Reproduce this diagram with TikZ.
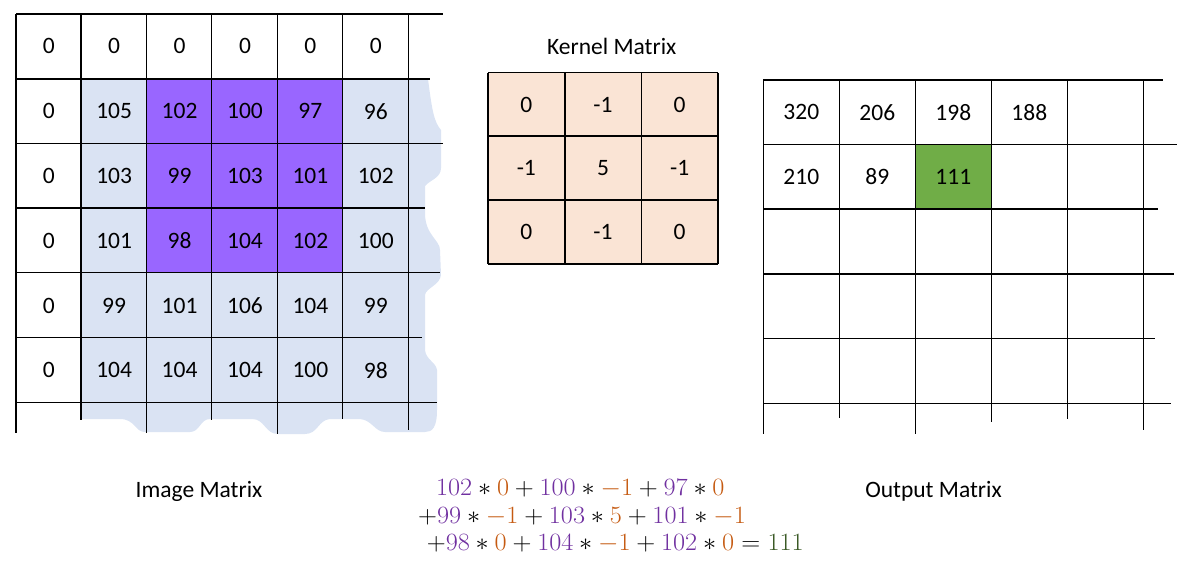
\documentclass[tikz,border=0pt]{standalone}
\usepackage[no-math]{fontspec}
\usepackage{graphicx}
\setmainfont{Carlito}
\definecolor{lblue}{RGB}{218,227,243}
\definecolor{kpurple}{RGB}{153,102,255}
\definecolor{kpeach}{RGB}{250,228,213}
\definecolor{kgreen}{RGB}{112,173,71}
\definecolor{fpurple}{RGB}{112,48,160}
\definecolor{forange}{RGB}{197,90,17}
\definecolor{fgreen}{RGB}{56,87,35}
\begin{document}
\begin{tikzpicture}[x=1pt,y=-1pt,
  gridline/.style={line width=1.4pt,black},
  cell/.style={font=\fontsize{23.5}{28}\selectfont, inner sep=0pt},
  lbl/.style={font=\fontsize{23.5}{28}\selectfont, inner sep=0pt},
  formula/.style={font=\fontsize{24}{28}\selectfont, inner sep=0pt, anchor=base west}]
\useasboundingbox (0,0) rectangle (1187,570);
% ---------- Image matrix ----------
\fill[lblue] (81,79) -- (428,79)
  .. controls (432,110) and (434,122) .. (441,130) -- (441,168)
  .. controls (441,178) and (430,180) .. (425,186) -- (425,213)
  .. controls (425,235) and (440,240) .. (440,250) -- (441,275)
  .. controls (440,285) and (426,288) .. (425,295) -- (425,350)
  .. controls (426,360) and (436,362) .. (437,370) -- (437,410)
  .. controls (437,428) and (432,432) .. (425,432) -- (385,432)
  .. controls (375,432) and (372,420) .. (360,419) -- (330,419)
  .. controls (318,420) and (318,434) .. (305,434) -- (278,434)
  .. controls (265,434) and (265,419) .. (252,419) -- (210,419)
  .. controls (200,419) and (200,432) .. (190,432) -- (145,432)
  .. controls (135,432) and (135,419) .. (120,419) -- (81,419) -- cycle;
\fill[kpurple] (146.5,79) rectangle (342.5,272.7);
\foreach \y/\xe in {14/443,79/430,143.5/443,208/425,272.7/440,337.7/422,402.7/437}
  \draw[gridline] (16,\y) -- (\xe,\y);
\foreach \x/\ye in {16/433,81/420,146.5/433,211.5/420,277.5/434,342.5/419,408.5/430}
  \draw[gridline] (\x,14) -- (\x,\ye);
\foreach \r/\vals in {0/{0,0,0,0,0,0},1/{0,105,102,100,97,96},2/{0,103,99,103,101,102},3/{0,101,98,104,102,100},4/{0,99,101,106,104,99},5/{0,104,104,104,100,98}}
  \foreach \v [count=\c from 0] in \vals
    \node[cell] (im-\r-\c) at ({16+65.42*(\c+0.5)},{14+64.78*(\r+0.5)}) {\v};
\node[lbl] (imlabel) at (199,491) {Image Matrix};
% ---------- Kernel matrix ----------
\fill[kpeach] (488,72.7) rectangle (718,264);
\foreach \y in {72.7,136,200,264} \draw[gridline] (488,\y) -- (718,\y);
\foreach \x in {488,565,641.7,718} \draw[gridline] (\x,72.7) -- (\x,264);
\foreach \r/\vals in {0/{0,-1,0},1/{-1,5,-1},2/{0,-1,0}}
  \foreach \v [count=\c from 0] in \vals
    \node[cell] (k-\r-\c) at ({488+76.67*(\c+0.5)},{72.7+63.77*(\r+0.5)}) {\v};
\node[lbl] (klabel) at (611.7,46.7) {Kernel Matrix};
% ---------- Output matrix ----------
\fill[kgreen] (915.3,144.3) rectangle (991.3,209);
\foreach \y/\xe in {80/1163,144.3/1177,209/1158,274/1174,338.7/1155,403.7/1171}
  \draw[gridline] (763.3,\y) -- (\xe,\y);
\foreach \x/\ye in {763.3/434,839.3/418,915.3/434,991.3/422,1067.3/419,1143.3/430}
  \draw[gridline] (\x,80) -- (\x,\ye);
\foreach \r/\vals in {0/{320,206,198,188},1/{210,89,111}}
  \foreach \v [count=\c from 0] in \vals
    \node[cell] (o-\r-\c) at ({763.3+76*(\c+0.5)},{80+64.7*(\r+0.5)}) {\v};
\node[lbl] (olabel) at (933.5,491) {Output Matrix};
% ---------- Formula ----------
\node[formula] (f1) at (436,495) {\scalebox{1.055}[1]{$\color{fpurple}102\color{black}\ast\color{forange}0\color{black}+\color{fpurple}100\color{black}\ast\color{forange}-1\color{black}+\color{fpurple}97\color{black}\ast\color{forange}0$}};
\node[formula] (f2) at (418,523.3) {\scalebox{1.055}[1]{$\color{black}+\color{fpurple}99\color{black}\ast\color{forange}-1\color{black}+\color{fpurple}103\color{black}\ast\color{forange}5\color{black}+\color{fpurple}101\color{black}\ast\color{forange}-1$}};
\node[formula] (f3) at (426.7,550.7) {\scalebox{1.055}[1]{$\color{black}+\color{fpurple}98\color{black}\ast\color{forange}0\color{black}+\color{fpurple}104\color{black}\ast\color{forange}-1\color{black}+\color{fpurple}102\color{black}\ast\color{forange}0\color{black}=\color{fgreen}111$}};
\end{tikzpicture}
\end{document}
